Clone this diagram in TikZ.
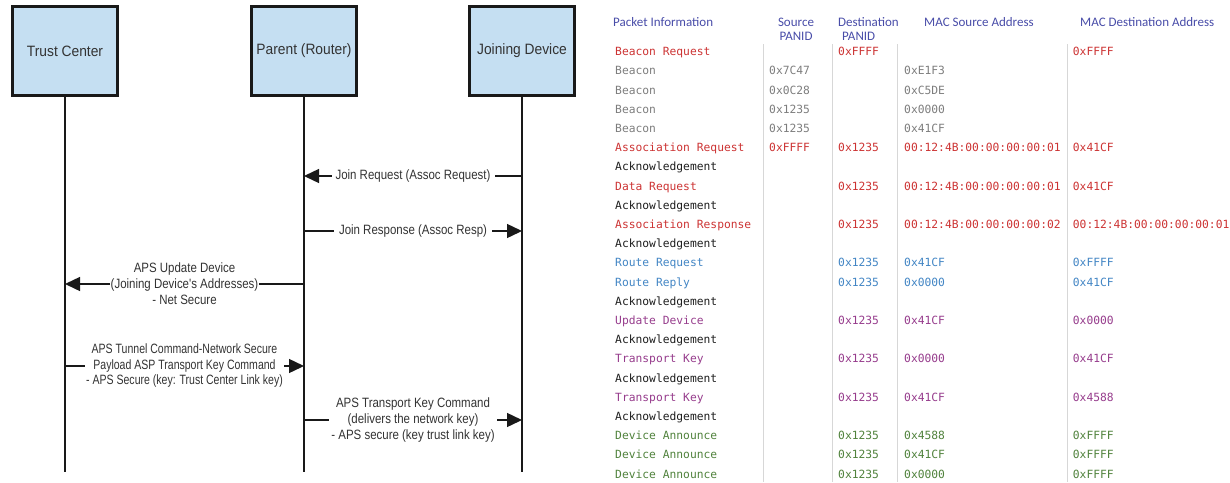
\documentclass[tikz,border=0pt]{standalone}
\usepackage{fontspec}
\usetikzlibrary{arrows.meta}
\setmainfont{Liberation Sans}
\newfontfamily\boxfont[FakeStretch=0.92]{Liberation Sans}
\newfontfamily\lblfont[FakeStretch=0.85]{Liberation Sans}
\newfontfamily\lblfontn[FakeStretch=0.78]{Liberation Sans}
\newfontfamily\hdrfont{Carlito}
\newfontfamily\tmono{DejaVu Sans Mono}
\definecolor{boxfill}{RGB}{197,223,242}
\definecolor{txt}{RGB}{51,51,51}
\definecolor{hdr}{RGB}{72,76,168}
\definecolor{cred}{RGB}{204,51,51}
\definecolor{cgray}{RGB}{125,125,125}
\definecolor{cblack}{RGB}{30,30,30}
\definecolor{cblue}{RGB}{66,133,196}
\definecolor{cpurple}{RGB}{150,60,140}
\definecolor{cgreen}{RGB}{80,130,60}
\definecolor{sepcol}{RGB}{215,215,215}
\newcommand\tcell[5]{\if\relax\detokenize{#5}\relax\else
  \node[cell,text=#4] (r#1c#2) at (#3,\ry) {#5};\fi}
\newcommand\trow[7]{%
  \pgfmathsetmacro\ry{51.7+(#1-1)*19.2+4}%
  \tcell{#1}{1}{615}{#2}{#3}%
  \tcell{#1}{2}{769}{#2}{#4}%
  \tcell{#1}{3}{838}{#2}{#5}%
  \tcell{#1}{4}{904}{#2}{#6}%
  \tcell{#1}{5}{1072.7}{#2}{#7}}
\begin{document}
\begin{tikzpicture}[x=1pt,y=-1pt,
  actor/.style={draw=black!90,line width=3pt,fill=boxfill,minimum width=105pt,minimum height=89pt,
    text=txt,font=\boxfont\fontsize{15}{18}\selectfont,inner sep=0pt},
  life/.style={draw=black!90,line width=1.5pt},
  msg/.style={draw=black!90,line width=1.4pt,-{Triangle[length=15pt,width=14pt]}},
  lbl/.style={fill=white,text=txt,font=\lblfont\fontsize{13.5}{16}\selectfont,align=center,inner ysep=1pt},
  hd/.style={text=hdr,font=\hdrfont\fontsize{13}{14}\selectfont,inner sep=0pt},
  cell/.style={anchor=base west,inner sep=0pt,font=\tmono\fontsize{11.3}{13}\selectfont},
  sepline/.style={draw=sepcol,line width=1pt}]
\useasboundingbox (0,0) rectangle (1230,482);
% actors
\node[actor] (tc) at (65,51) {Trust Center};
\node[actor] (pr) at (304,51) {Parent (Router)};
\node[actor] (jd) at (522,51) {Joining Device};
\coordinate (tcend) at (65,472);
\coordinate (prend) at (304,472);
\coordinate (jdend) at (522,472);
\draw[life] (tc.south) -- (tcend);
\draw[life] (pr.south) -- (prend);
\draw[life] (jd.south) -- (jdend);
% messages
\draw[msg] (jd |- 0,176) -- node[lbl,inner xsep=4pt]{Join Request (Assoc Request)} (pr |- 0,176);
\draw[msg] (pr |- 0,231) -- node[lbl,inner xsep=5pt]{Join Response (Assoc Resp)} (jd |- 0,231);
\draw[msg] (pr |- 0,284) -- node[lbl,inner xsep=0.5pt]{APS Update Device\\(Joining Device's Addresses)\\- Net Secure} (tc |- 0,284);
\draw[msg] (tc |- 0,366) -- node[lbl,inner xsep=1pt,font=\lblfontn\fontsize{13.5}{15.5}\selectfont]{APS Tunnel Command-Network Secure\\Payload ASP Transport Key Command\\- APS Secure (key: Trust Center Link key)} (pr |- 0,366);
\draw[msg] (pr |- 0,420) -- node[lbl,inner xsep=2pt]{APS Transport Key Command\\(delivers the network key)\\- APS secure (key trust link key)} (jd |- 0,420);
% table header
\node[hd,anchor=base west] (h1) at (613,26) {Packet Information};
\node[hd,anchor=base] (h2a) at (796,26) {Source};
\node[hd,anchor=base] (h2b) at (796,40) {PANID};
\node[hd,anchor=base west] (h3a) at (838,26) {Destination};
\node[hd,anchor=base west] (h3b) at (842,40) {PANID};
\node[hd,anchor=base west] (h4) at (924,26) {MAC Source Address};
\node[hd,anchor=base west] (h5) at (1080,26) {MAC Destination Address};
% separators
\draw[sepline] (763,44) -- (763,482);
\draw[sepline] (832,44) -- (832,482);
\draw[sepline] (897,44) -- (897,482);
\draw[sepline] (1067,44) -- (1067,482);
% rows
\trow{1}{cred}{Beacon Request}{}{0xFFFF}{}{0xFFFF}
\trow{2}{cgray}{Beacon}{0x7C47}{}{0xE1F3}{}
\trow{3}{cgray}{Beacon}{0x0C28}{}{0xC5DE}{}
\trow{4}{cgray}{Beacon}{0x1235}{}{0x0000}{}
\trow{5}{cgray}{Beacon}{0x1235}{}{0x41CF}{}
\trow{6}{cred}{Association Request}{0xFFFF}{0x1235}{00:12:4B:00:00:00:00:01}{0x41CF}
\trow{7}{cblack}{Acknowledgement}{}{}{}{}
\trow{8}{cred}{Data Request}{}{0x1235}{00:12:4B:00:00:00:00:01}{0x41CF}
\trow{9}{cblack}{Acknowledgement}{}{}{}{}
\trow{10}{cred}{Association Response}{}{0x1235}{00:12:4B:00:00:00:00:02}{00:12:4B:00:00:00:00:01}
\trow{11}{cblack}{Acknowledgement}{}{}{}{}
\trow{12}{cblue}{Route Request}{}{0x1235}{0x41CF}{0xFFFF}
\trow{13}{cblue}{Route Reply}{}{0x1235}{0x0000}{0x41CF}
\trow{14}{cblack}{Acknowledgement}{}{}{}{}
\trow{15}{cpurple}{Update Device}{}{0x1235}{0x41CF}{0x0000}
\trow{16}{cblack}{Acknowledgement}{}{}{}{}
\trow{17}{cpurple}{Transport Key}{}{0x1235}{0x0000}{0x41CF}
\trow{18}{cblack}{Acknowledgement}{}{}{}{}
\trow{19}{cpurple}{Transport Key}{}{0x1235}{0x41CF}{0x4588}
\trow{20}{cblack}{Acknowledgement}{}{}{}{}
\trow{21}{cgreen}{Device Announce}{}{0x1235}{0x4588}{0xFFFF}
\trow{22}{cgreen}{Device Announce}{}{0x1235}{0x41CF}{0xFFFF}
\trow{23}{cgreen}{Device Announce}{}{0x1235}{0x0000}{0xFFFF}
\end{tikzpicture}
\end{document}
